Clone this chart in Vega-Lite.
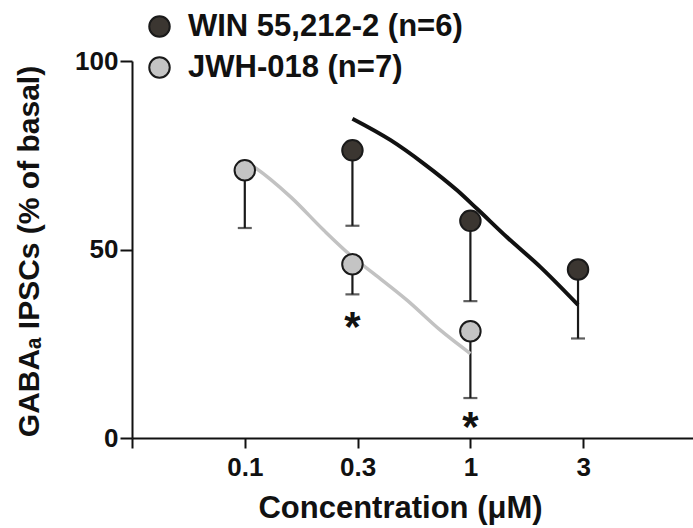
{
  "$schema": "https://vega.github.io/schema/vega-lite/v6.json",
  "width": 561,
  "height": 377,
  "autosize": {"type": "none"},
  "padding": {"left": 132, "top": 61, "right": 0, "bottom": 90},
  "background": "white",
  "config": {
    "font": "Liberation Sans",
    "view": {"stroke": null},
    "axis": {
      "grid": false,
      "domainColor": "#111",
      "domainWidth": 2,
      "tickColor": "#111",
      "tickWidth": 2,
      "labelColor": "#111",
      "titleColor": "#111",
      "labelFont": "Liberation Sans",
      "titleFont": "Liberation Sans",
      "labelFontWeight": "bold",
      "titleFontWeight": "bold",
      "labelFontSize": 26,
      "titleFontSize": 30
    },
    "legend": {
      "orient": "none",
      "legendX": 12,
      "legendY": -50,
      "padding": 0,
      "title": null,
      "symbolType": "circle",
      "symbolSize": 420,
      "symbolStrokeColor": "#1a1a1a",
      "symbolStrokeWidth": 2,
      "labelFont": "Liberation Sans",
      "labelFontSize": 31,
      "labelFontWeight": "bold",
      "labelColor": "#111",
      "labelOffset": 13,
      "labelLimit": 0,
      "rowPadding": 9
    }
  },
  "datasets": {
    "points": [
      {"conc": 0.1, "drug": "JWH-018 (n=7)", "mean": 71.0, "lower": 55.7},
      {"conc": 0.3, "drug": "JWH-018 (n=7)", "mean": 46.1, "lower": 38.1},
      {"conc": 1, "drug": "JWH-018 (n=7)", "mean": 28.3, "lower": 10.6},
      {"conc": 0.3, "drug": "WIN 55,212-2 (n=6)", "mean": 76.3, "lower": 56.3},
      {"conc": 1, "drug": "WIN 55,212-2 (n=6)", "mean": 57.6, "lower": 36.3},
      {"conc": 3, "drug": "WIN 55,212-2 (n=6)", "mean": 44.7, "lower": 26.4}
    ],
    "curves": [
      {"conc": 0.1, "fit": "JWH", "value": 73.5},
      {"conc": 0.11, "fit": "JWH", "value": 71.9},
      {"conc": 0.16, "fit": "JWH", "value": 63.9},
      {"conc": 0.224, "fit": "JWH", "value": 55.1},
      {"conc": 0.294, "fit": "JWH", "value": 48.5},
      {"conc": 0.373, "fit": "JWH", "value": 43.6},
      {"conc": 0.525, "fit": "JWH", "value": 36.5},
      {"conc": 0.736, "fit": "JWH", "value": 28.6},
      {"conc": 1.0, "fit": "JWH", "value": 22.4},
      {"conc": 0.3, "fit": "WIN", "value": 84.7},
      {"conc": 0.443, "fit": "WIN", "value": 79.0},
      {"conc": 0.621, "fit": "WIN", "value": 72.8},
      {"conc": 0.873, "fit": "WIN", "value": 65.7},
      {"conc": 1.07, "fit": "WIN", "value": 60.8},
      {"conc": 1.45, "fit": "WIN", "value": 53.3},
      {"conc": 2.04, "fit": "WIN", "value": 45.4},
      {"conc": 3.0, "fit": "WIN", "value": 35.3}
    ],
    "stars": [
      {"conc": 0.3, "pos": 32.0, "label": "*"},
      {"conc": 1, "pos": 5.6, "label": "*"}
    ]
  },
  "layer": [
    {
      "data": {"name": "points"},
      "mark": {"type": "rule", "color": "#1a1a1a", "strokeWidth": 2.2},
      "encoding": {
        "x": {
          "field": "conc",
          "type": "quantitative",
          "scale": {"type": "log", "domain": [0.031623, 9.7], "nice": false},
          "axis": {
            "title": "Concentration (μM)",
            "values": [0.031623, 0.1, 0.3162, 1, 3.162],
            "labelExpr": "datum.value < 0.05 ? '' : datum.value < 0.2 ? '0.1' : datum.value < 0.5 ? '0.3' : datum.value < 2 ? '1' : '3'",
            "tickSize": 10,
            "labelPadding": 6,
            "titleX": 268,
            "titleY": 79,
            "titleFontSize": 31,
            "titleBaseline": "alphabetic",
            "titleAnchor": "middle"
          }
        },
        "y": {
          "field": "mean",
          "type": "quantitative",
          "scale": {"domain": [0, 100], "nice": false},
          "axis": {
            "title": "GABAₐ IPSCs (% of basal)",
            "values": [0, 50, 100],
            "tickSize": 12,
            "labelPadding": 2,
            "titleX": -103,
            "titleY": 190,
            "titleAngle": -90,
            "titleAlign": "center",
            "titleBaseline": "middle"
          }
        },
        "y2": {"field": "lower"}
      }
    },
    {
      "data": {"name": "points"},
      "mark": {"type": "tick", "orient": "horizontal", "color": "#1a1a1a", "size": 14, "thickness": 2.2},
      "encoding": {
        "x": {"field": "conc", "type": "quantitative"},
        "y": {"field": "lower", "type": "quantitative"}
      }
    },
    {
      "data": {"name": "curves"},
      "transform": [{"filter": "datum.fit === 'JWH'"}],
      "mark": {"type": "line", "color": "#c2c2c2", "strokeWidth": 3.5, "interpolate": "monotone"},
      "encoding": {
        "x": {"field": "conc", "type": "quantitative"},
        "y": {"field": "value", "type": "quantitative"}
      }
    },
    {
      "data": {"name": "points"},
      "mark": {"type": "point", "filled": true, "size": 420, "stroke": "#1a1a1a", "strokeWidth": 2, "opacity": 1, "shape": "circle"},
      "encoding": {
        "x": {"field": "conc", "type": "quantitative"},
        "y": {"field": "mean", "type": "quantitative"},
        "fill": {
          "field": "drug",
          "type": "nominal",
          "scale": {"domain": ["WIN 55,212-2 (n=6)", "JWH-018 (n=7)"], "range": ["#3b3631", "#c4c4c4"]},
          "legend": {}
        }
      }
    },
    {
      "data": {"name": "curves"},
      "transform": [{"filter": "datum.fit === 'WIN'"}],
      "mark": {"type": "line", "color": "#111111", "strokeWidth": 4, "interpolate": "monotone"},
      "encoding": {
        "x": {"field": "conc", "type": "quantitative"},
        "y": {"field": "value", "type": "quantitative"}
      }
    },
    {
      "data": {"name": "stars"},
      "mark": {"type": "text", "fontSize": 42, "fontWeight": "bold", "font": "Liberation Sans", "color": "#111", "baseline": "alphabetic", "align": "center", "dy": 24},
      "encoding": {
        "x": {"field": "conc", "type": "quantitative"},
        "y": {"field": "pos", "type": "quantitative"},
        "text": {"field": "label"}
      }
    }
  ]
}
